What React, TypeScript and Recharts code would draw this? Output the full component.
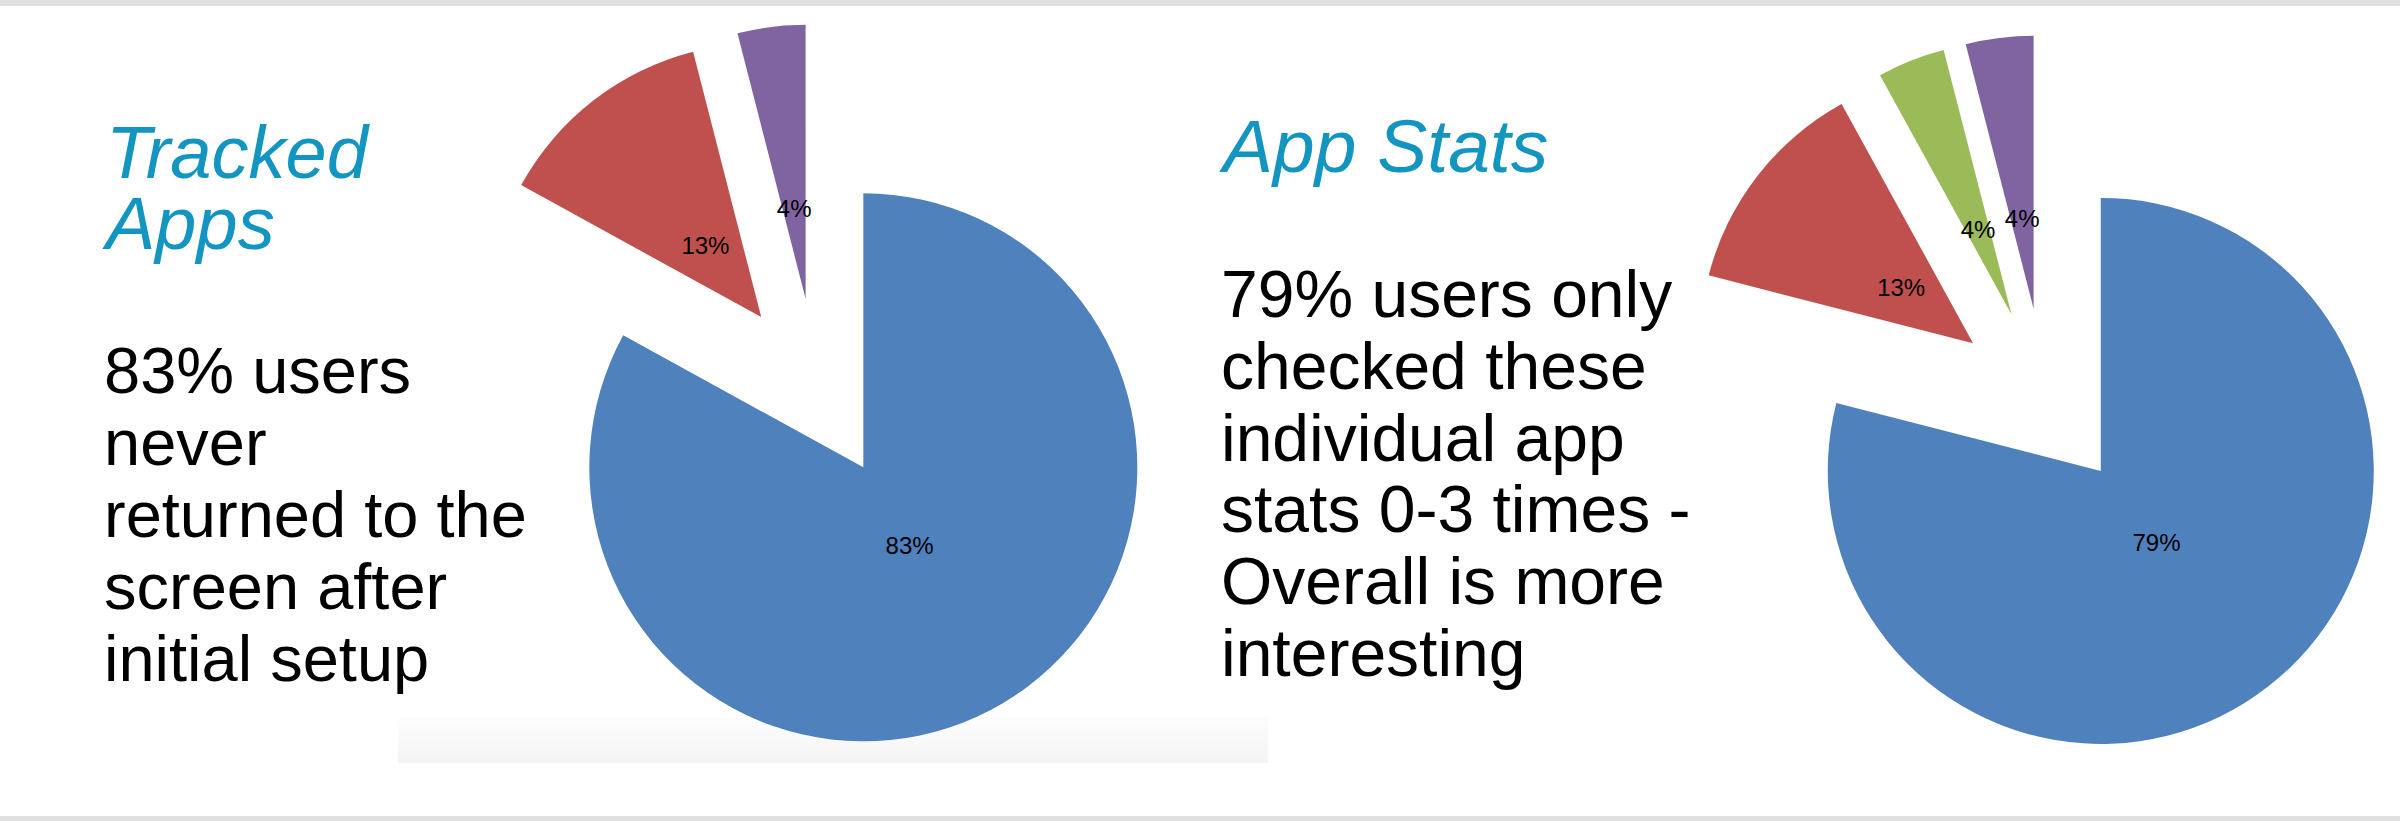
import React from 'react'
import { PieChart, Pie, Cell, Sector } from 'recharts'

// Tracked Apps: share of users by return visits
const trackedNames = ['Never returned', 'Returned a few times', 'Returned often']
const trackedValues = [83, 13, 4]
const trackedColors = ['#4f81bd', '#c0504d', '#8064a2']

// App Stats: share of users by number of checks
const statsNames = ['0-3 times', '4-10 times', '11-20 times', '20+ times']
const statsValues = [79, 13, 4, 4]
const statsColors = ['#4f81bd', '#c0504d', '#9bbb59', '#8064a2']

const trackedTitle = ['Tracked', 'Apps']
const trackedText = ['83% users', 'never', 'returned to the', 'screen after', 'initial setup']
const statsTitle = ['App Stats']
const statsText = [
  '79% users only',
  'checked these',
  'individual app',
  'stats 0-3 times -',
  'Overall is more',
  'interesting',
]

const trackedData = trackedNames.map((name, i) => ({ name, value: trackedValues[i] }))
const statsData = statsNames.map((name, i) => ({ name, value: statsValues[i] }))

const RADIAN = Math.PI / 180
const EXPLODE = 91
const LABEL_DIST = 182

const toward = (midAngle: number, d: number) => ({
  dx: d * Math.cos(-midAngle * RADIAN),
  dy: d * Math.sin(-midAngle * RADIAN),
})

const explodedShape = (props: any) => {
  const { dx, dy } = toward(props.midAngle, EXPLODE)
  return <Sector {...props} cx={props.cx + dx} cy={props.cy + dy} />
}

const renderLabel = (props: any) => {
  const { cx, cy, midAngle, value } = props
  const { dx, dy } = toward(midAngle, LABEL_DIST)
  return (
    <text
      x={cx + dx}
      y={cy + dy}
      textAnchor="middle"
      dominantBaseline="central"
      fill="#000"
      style={{ fontSize: 24, fontFamily: '"Liberation Sans", Arial, sans-serif' }}
    >
      {`${value}%`}
    </text>
  )
}

const bodyFont = '"Liberation Sans", Arial, Helvetica, sans-serif'

export default function App() {
  return (
    <div style={{ position: 'absolute', left: 0, top: 0, width: 2400, height: 821, background: '#ffffff', overflow: 'hidden' }}>
      <div style={{ position: 'absolute', left: 0, top: 0, width: 2400, height: 6, background: '#e0e0e0' }} />
      <div style={{ position: 'absolute', left: 0, top: 816, width: 2400, height: 5, background: '#e0e0e0' }} />
      <div style={{
        position: 'absolute', left: 398, top: 717, width: 870, height: 46,
        background: 'linear-gradient(#fdfdfd, #f4f4f4)',
      }} />

      <div style={{ position: 'absolute', left: 0, top: 0 }}>
        <PieChart width={2400} height={821} margin={{ top: 0, right: 0, bottom: 0, left: 0 }}>
          <Pie
            data={trackedData}
            dataKey="value"
            nameKey="name"
            cx={817}
            cy={389}
            outerRadius={274}
            startAngle={90}
            endAngle={-270}
            stroke="none"
            shape={explodedShape}
            label={renderLabel}
            labelLine={false}
            isAnimationActive={false}
          >
            {trackedData.map((d, i) => <Cell key={d.name} fill={trackedColors[i]} />)}
          </Pie>
          <Pie
            data={statsData}
            dataKey="value"
            nameKey="name"
            cx={2045}
            cy={399}
            outerRadius={273}
            startAngle={90}
            endAngle={-270}
            stroke="none"
            shape={explodedShape}
            label={renderLabel}
            labelLine={false}
            isAnimationActive={false}
          >
            {statsData.map((d, i) => <Cell key={d.name} fill={statsColors[i]} />)}
          </Pie>
        </PieChart>
      </div>

      <svg width={2400} height={821} style={{ position: 'absolute', left: 0, top: 0, pointerEvents: 'none' }}>
        {trackedTitle.map((t, i) => (
          <text key={t} x={106} y={178 + 71 * i} fill="#1395c2"
            style={{ fontSize: 74, fontStyle: 'italic', fontFamily: bodyFont }}>{t}</text>
        ))}
        {trackedText.map((t, i) => (
          <text key={t} x={104} y={393 + 72 * i} fill="#000"
            style={{ fontSize: 65, fontFamily: bodyFont }}>{t}</text>
        ))}
        {statsTitle.map((t, i) => (
          <text key={t} x={1223} y={172 + 71 * i} fill="#1395c2"
            style={{ fontSize: 75, fontStyle: 'italic', fontFamily: bodyFont }}>{t}</text>
        ))}
        {statsText.map((t, i) => (
          <text key={t} x={1221} y={317 + 71.8 * i} fill="#000"
            style={{ fontSize: 66, fontFamily: bodyFont }}>{t}</text>
        ))}
      </svg>
    </div>
  )
}
